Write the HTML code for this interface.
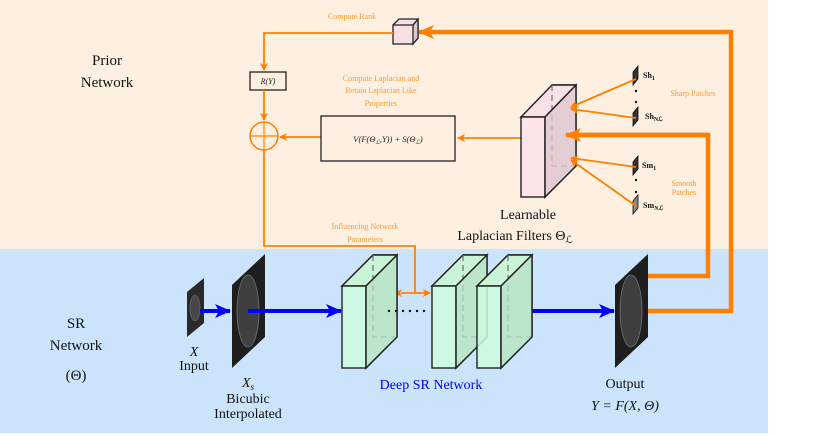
<!DOCTYPE html>
<html><head><meta charset="utf-8"><style>
html,body{margin:0;padding:0;background:#fff;}
svg{display:block;font-family:"Liberation Serif",serif;}
</style></head><body>
<svg width="829" height="437" viewBox="0 0 829 437" xmlns="http://www.w3.org/2000/svg">
<defs>
<marker id="ao" markerWidth="8" markerHeight="8" refX="7" refY="4" orient="auto" markerUnits="userSpaceOnUse"><path d="M0,0 L8,4 L0,8 L2,4z" fill="#ff8000"/></marker>
<marker id="aoS" markerWidth="8" markerHeight="8" refX="1" refY="4" orient="auto-start-reverse" markerUnits="userSpaceOnUse"><path d="M0,0 L8,4 L0,8 L2,4z" fill="#ff8000"/></marker>
<marker id="aoB" markerWidth="16" markerHeight="14" refX="15" refY="7" orient="auto" markerUnits="userSpaceOnUse"><path d="M0,0 L16,7 L0,14 L4,7z" fill="#ff8000"/></marker>
<marker id="ab" markerWidth="16" markerHeight="14" refX="15" refY="7" orient="auto" markerUnits="userSpaceOnUse"><path d="M0,0 L16,7 L0,14 L4,7z" fill="#0000ff"/></marker>
</defs>
<rect x="0" y="0" width="768" height="249" fill="#fdf0e1"/>
<rect x="0" y="249" width="768" height="184" fill="#cce4fb"/>

<g font-size="15" fill="#111" text-anchor="middle">
<text x="107" y="65">Prior</text><text x="107" y="87">Network</text>
<text x="76" y="328">SR</text><text x="76" y="350">Network</text><text x="76" y="380">(Θ)</text>
</g>

<polyline points="630,311 731,311 731,32 419,32" fill="none" stroke="#ff8000" stroke-width="4.5" marker-end="url(#aoB)"/>
<polyline points="645,276 708,276 708,135 562,135" fill="none" stroke="#ff8000" stroke-width="4.5" marker-end="url(#aoB)"/>

<g stroke="#222" stroke-width="1.3" fill="#f7dfe4">
<polygon points="393,25 399,19 418,19 418,38 413,44 393,44"/>
<polygon points="413,25 418,19 418,38 413,44" fill="#dcc8cc"/>
<polyline points="393,25 413,25 418,19 M413,25 413,44" fill="none"/>
</g>
<text x="352" y="19" font-size="8" fill="#ff9a33" text-anchor="middle">Compute Rank</text>

<polyline points="393,33 264,33 264,70" fill="none" stroke="#ff8000" stroke-width="1.8" marker-end="url(#ao)"/>
<rect x="250" y="72" width="36" height="18" fill="#fdf0e1" stroke="#222" stroke-width="1.3"/>
<text x="268" y="84" font-size="8" font-style="italic" text-anchor="middle" fill="#222">R(Y)</text>
<line x1="264" y1="90" x2="264" y2="120" stroke="#ff8000" stroke-width="1.8" marker-end="url(#ao)"/>
<circle cx="264" cy="136" r="14" fill="none" stroke="#ff8000" stroke-width="1.5"/>
<line x1="250" y1="136" x2="278" y2="136" stroke="#ff8000" stroke-width="1.2"/>
<line x1="264" y1="122" x2="264" y2="150" stroke="#ff8000" stroke-width="1.2"/>
<line x1="321" y1="137" x2="280" y2="137" stroke="#ff8000" stroke-width="1.8" marker-end="url(#ao)"/>
<rect x="321" y="116" width="134" height="45" fill="#fdf0e1" stroke="#222" stroke-width="1.3"/>
<text x="388" y="142" font-size="8.5" font-style="italic" text-anchor="middle" fill="#222">V(F(Θ<tspan font-size="6" dy="2">ℒ</tspan><tspan dy="-2">,Y)) + S(Θ</tspan><tspan font-size="6" dy="2">ℒ</tspan><tspan dy="-2">)</tspan></text>
<g font-size="8" fill="#ff9a33" text-anchor="middle">
<text x="381" y="81">Compute Laplacian and</text>
<text x="381" y="93">Retain Laplacian Like</text>
<text x="381" y="106">Properties</text>
<text x="365" y="229">Influencing Network</text>
<text x="365" y="242">Parameters</text>
</g>
<line x1="521" y1="138" x2="458" y2="138" stroke="#ff8000" stroke-width="1.8" marker-end="url(#ao)"/>
<polyline points="264,150 264,246 415,246 415,293" fill="none" stroke="#ff8000" stroke-width="1.8"/>
<line x1="401" y1="293" x2="430" y2="293" stroke="#ff8000" stroke-width="1.8" marker-start="url(#aoS)" marker-end="url(#ao)"/>

<g stroke="#222" stroke-width="1.4">
<polygon points="545,117 552,85 576,85 576,166 545,197" fill="#e7cfd5"/>
<polygon points="521,117 552,85 576,85 545,117" fill="#f9e2e6"/>
<polyline points="552,85 552,166 576,166 M552,166 521,197" fill="none" stroke="#666" stroke-dasharray="6,4" stroke-width="1.1"/>
<rect x="521" y="117" width="24" height="80" fill="#fbe3e6" fill-opacity="0.85"/>
<polygon points="545,117 576,85 576,166 545,197" fill="#e3ccd1" fill-opacity="0.7"/>
</g>
<line x1="708" y1="135" x2="566" y2="135" stroke="#ff8000" stroke-width="4.5" marker-end="url(#aoB)"/>
<g font-size="14" fill="#111" text-anchor="middle">
<text x="528" y="219">Learnable</text>
<text x="515" y="240">Laplacian Filters Θ<tspan font-size="10" dy="3">ℒ</tspan></text>
</g>

<g fill="#333" stroke="#111" stroke-width="0.8">
<polygon points="633,72 638,66 638,79 633,85"/>
<polygon points="633,113 638,107 638,120 633,126"/>
<polygon points="633,162 638,156 638,169 633,175"/>
<polygon points="633,201 638,195 638,208 633,214" fill="#888"/>
</g>
<g fill="#111"><circle cx="636" cy="91" r="1.2"/><circle cx="636" cy="102" r="1.2"/><circle cx="636" cy="180" r="1.2"/><circle cx="636" cy="192" r="1.2"/></g>
<g font-size="8" font-weight="bold" fill="#111">
<text x="643" y="78">Sh<tspan font-size="6" dy="2">1</tspan></text>
<text x="645" y="119">Sh<tspan font-size="6" dy="2">Nℒ</tspan></text>
<text x="642" y="168">Sm<tspan font-size="6" dy="2">1</tspan></text>
<text x="643" y="208">Sm<tspan font-size="6" dy="2" font-style="italic">Nℒ</tspan></text>
</g>
<g font-size="8" fill="#ff9a33" text-anchor="middle">
<text x="693" y="96">Sharp Patches</text>
<text x="684" y="186">Smooth</text><text x="684" y="195">Patches</text>
</g>
<g stroke="#ff8000" stroke-width="1.8" fill="none">
<line x1="636" y1="79" x2="571" y2="107" marker-end="url(#ao)"/>
<line x1="636" y1="118" x2="571" y2="109" marker-end="url(#ao)"/>
<line x1="636" y1="167" x2="571" y2="158" marker-end="url(#ao)"/>
<line x1="636" y1="206" x2="571" y2="160" marker-end="url(#ao)"/>
</g>

<polygon points="187,292 204,278 204,323 187,337" fill="#2a2a2a"/>
<ellipse cx="195" cy="308" rx="5" ry="13" fill="#666" opacity="0.5" stroke="#aaa" stroke-width="0.6"/>
<polygon points="232,285 265,254 265,337 232,368" fill="#1e1e1e"/>
<ellipse cx="248" cy="311" rx="11" ry="36" fill="#555" opacity="0.6" stroke="#aaa" stroke-width="0.8"/>
<polygon points="615,285 648,254 648,337 615,368" fill="#1e1e1e"/>
<ellipse cx="631" cy="311" rx="11" ry="36" fill="#555" opacity="0.6" stroke="#aaa" stroke-width="0.8"/>

<g stroke="#0000ff" stroke-width="4" fill="none">
<line x1="200" y1="311" x2="230" y2="311" marker-end="url(#ab)"/>
<line x1="248" y1="311" x2="341" y2="311" marker-end="url(#ab)"/>
<line x1="515" y1="311" x2="614" y2="311" marker-end="url(#ab)"/>
</g>

<g id="blk" stroke="#222" stroke-width="1.4">
<polygon points="342,286 373,255 397,255 397,337 366,368 366,286" fill="#bde6cb"/>
<polygon points="342,286 373,255 397,255 366,286" fill="#c9f5d6"/>
<polyline points="373,255 373,337 397,337 M373,337 342,368" fill="none" stroke="#666" stroke-dasharray="6,4" stroke-width="1.1"/>
<rect x="342" y="286" width="24" height="82" fill="#ccfcdc" fill-opacity="0.85"/>
<polygon points="366,286 397,255 397,337 366,368" fill="#bce5ca" fill-opacity="0.7"/>
</g>
<use href="#blk" x="90"/>
<use href="#blk" x="135"/>
<g fill="#111"><circle cx="389" cy="311" r="1.2"/><circle cx="396" cy="311" r="1.2"/><circle cx="403" cy="311" r="1.2"/><circle cx="410" cy="311" r="1.2"/><circle cx="417" cy="311" r="1.2"/><circle cx="424" cy="311" r="1.2"/></g>

<g font-size="14" fill="#111" text-anchor="middle">
<text x="194" y="356" font-style="italic">X</text>
<text x="194" y="370">Input</text>
<text x="248" y="387" font-style="italic">X<tspan font-size="9" dy="3">s</tspan></text>
<text x="248" y="403">Bicubic</text>
<text x="248" y="418">Interpolated</text>
<text x="431" y="389" fill="#0000ff">Deep SR Network</text>
<text x="625" y="388">Output</text>
<text x="625" y="410" font-style="italic">Y = F(X, Θ)</text>
</g>
</svg>
</body></html>
